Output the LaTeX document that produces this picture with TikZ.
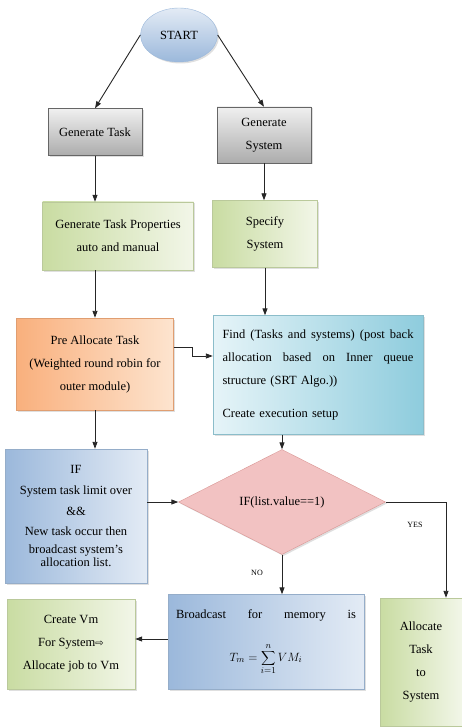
\documentclass[tikz,border=0pt]{standalone}
\usepackage{fontspec}
\setmainfont{Liberation Serif}
\newfontfamily\dejavu{DejaVu Sans}
\usetikzlibrary{shapes.geometric,arrows.meta,shadows}
\definecolor{greenlt}{HTML}{F2F6E8}
\definecolor{greendk}{HTML}{C9DCA2}
\definecolor{orangelt}{HTML}{FDE4CF}
\definecolor{orangedk}{HTML}{F9B07D}
\definecolor{cyanlt}{HTML}{E6F4F8}
\definecolor{cyandk}{HTML}{8ECCDD}
\definecolor{bluelt}{HTML}{E3EBF5}
\definecolor{bluedk}{HTML}{9BB8DB}
\definecolor{pinkfill}{HTML}{F2C2C2}
\definecolor{pinkline}{HTML}{D99694}

\begin{document}
\begin{tikzpicture}[x=1pt,y=-1pt,
    >={Triangle[length=7pt,width=5pt]},
    box/.style={rectangle,inner sep=0pt,align=center,
      font=\fontsize{12.5}{23}\selectfont,
      drop shadow={opacity=.25,shadow xshift=1.5pt,shadow yshift=-1.5pt}},
    graybox/.style={box,draw=gray!80!black,top color=gray!12,bottom color=gray!65},
    greenbox/.style={box,draw=greendk!80!gray,left color=greendk,right color=greenlt},
    orangebox/.style={box,draw=orangedk!90!black,left color=orangedk,right color=orangelt},
    cyanbox/.style={box,draw=cyandk!80!gray,left color=cyanlt,right color=cyandk},
    bluebox/.style={box,draw=bluedk!80!gray,left color=bluedk,right color=bluelt},
    flow/.style={->,line width=0.9pt,draw=black!85},
    lbl/.style={font=\fontsize{8}{8}\selectfont,inner sep=1pt}]
  \useasboundingbox (0,0) rectangle (462,727);

  \node[ellipse,draw=bluedk,top color=bluelt,bottom color=bluedk,
    minimum width=77,minimum height=54,inner sep=0pt,font=\fontsize{12.5}{14}\selectfont,
    drop shadow={opacity=.25,shadow xshift=1.5pt,shadow yshift=-1.5pt}] (start) at (179,35) {START};
  \node[graybox,minimum width=94,minimum height=47] (gtask) at (95,132) {Generate Task};
  \node[graybox,minimum width=94,minimum height=56] (gsys) at (264,135) {Generate\\System};
  \node[greenbox,minimum width=151,minimum height=68] (gprop) at (118,236) {Generate Task Properties\\auto and manual};
  \node[greenbox,minimum width=105,minimum height=67] (spec) at (265,234) {Specify\\System};
  \node[orangebox,minimum width=157,minimum height=92] (pre) at (95,364)
    {Pre Allocate Task\\(Weighted round robin for\\outer module)};
  \node[cyanbox,minimum width=210,minimum height=119,text width=191,align=left] (find) at (318,375)
    {\makebox[191pt]{Find\hfill(Tasks\hfill and\hfill systems)\hfill(post\hfill back}\\
     \makebox[191pt]{allocation\hfill based\hfill on\hfill Inner\hfill queue}\\
     structure (SRT Algo.))\\[10pt]
     Create execution setup};
  \node[bluebox,minimum width=142,minimum height=134] (ifbox) at (76,516)
    {IF\\[-2pt]System task limit over\\[-2pt]\&\&\\[-3pt]New task occur then\\[-5pt]broadcast system's\\[-10pt]allocation list.};
  \node[diamond,draw=pinkline,fill=pinkfill,aspect=2,minimum width=207,minimum height=105,
    inner sep=0pt,font=\fontsize{12.5}{14}\selectfont,
    drop shadow={opacity=.25,shadow xshift=1.5pt,shadow yshift=-1.5pt}] (cond) at (282,502) {IF(list.value==1)};
  \node[bluebox,minimum width=196,minimum height=95] (bcast) at (266,642)
    {\makebox[180pt]{Broadcast\hfill for\hfill memory\hfill is}\\[20pt]
     $\displaystyle T_m=\sum_{i=1}^{n} VM_i$};
  \node[greenbox,minimum width=82,minimum height=128] (alloc) at (421,662) {Allocate\\Task\\to\\System};
  \node[greenbox,minimum width=128,minimum height=90] (vm) at (71,644)
    {Create Vm\\For System{\dejavu\fontsize{10}{10}\selectfont ⇨}\\Allocate job to Vm};

  \node[lbl] (yes) at (415,525) {YES};
  \node[lbl] (no) at (257,573) {NO};

  \draw[flow] (start.west) -- (gtask.north);
  \draw[flow] (start.east) -- (gsys.north);
  \draw[flow] (gtask.south) -- (gtask.south |- gprop.north);
  \draw[flow] (gsys.south) -- (gsys.south |- spec.north);
  \draw[flow] (pre.north |- gprop.south) -- (pre.north);
  \draw[flow] (spec.south) -- (spec.south |- find.north);
  \draw[flow] ([yshift=17pt]pre.east) -- ++(19,0) |- ([yshift=19pt]find.west);
  \draw[flow] (pre.south) -- (pre.south |- ifbox.north);
  \draw[flow] (cond.north |- find.south) -- (cond.north);
  \draw[flow] (ifbox.east |- cond.west) -- (cond.west);
  \draw[flow] (cond.east) -| ([xshift=25pt]alloc.north);
  \draw[flow] (cond.south) -- (cond.south |- bcast.north);
  \draw[flow] ([yshift=3pt]bcast.west) -- ([yshift=3pt]bcast.west -| vm.east);
\end{tikzpicture}
\end{document}
